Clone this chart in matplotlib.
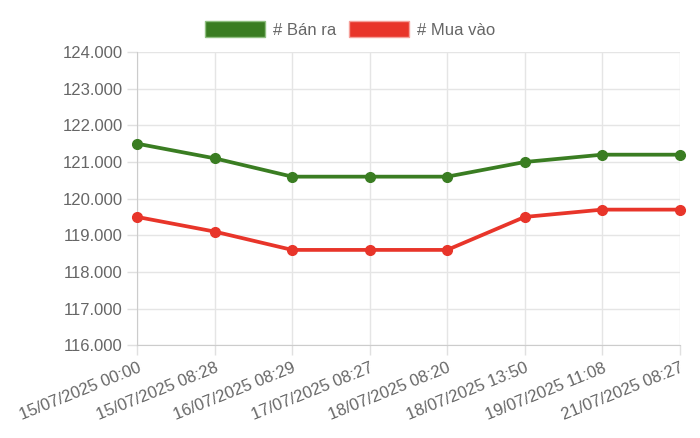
import matplotlib.pyplot as plt
from matplotlib.patches import Patch
from matplotlib.ticker import FuncFormatter

labels = ['15/07/2025 00:00', '15/07/2025 08:28', '16/07/2025 08:29', '17/07/2025 08:27',
          '18/07/2025 08:20', '18/07/2025 13:50', '19/07/2025 11:08', '21/07/2025 08:27']
ban_ra = [121500, 121100, 120600, 120600, 120600, 121000, 121200, 121200]
mua_vao = [119500, 119100, 118600, 118600, 118600, 119500, 119700, 119700]

GREEN = '#3a7d22'
RED = '#e8352a'

plt.rcParams['font.family'] = ['Liberation Sans', 'DejaVu Sans']


def main() -> None:
    fig = plt.figure(figsize=(7, 4.38), dpi=100)
    ax = fig.add_axes([0.196, 0.212, 0.775, 0.669])

    x = list(range(len(labels)))
    ax.plot(x, ban_ra, color=GREEN, lw=2.7, marker='o', ms=7, zorder=3, clip_on=False)
    ax.plot(x, mua_vao, color=RED, lw=2.7, marker='o', ms=7, zorder=3, clip_on=False)

    ax.set_xlim(0, len(labels) - 1)
    ax.set_ylim(116000, 124000)
    ax.set_yticks(range(116000, 124001, 1000))
    ax.yaxis.set_major_formatter(FuncFormatter(lambda v, p: f'{int(v):,}'.replace(',', '.')))
    ax.set_xticks(x)
    ax.set_xticklabels(labels, rotation=22, ha='right', rotation_mode='anchor')

    ax.grid(color='#e5e5e5', lw=1)
    ax.set_axisbelow(True)
    for side in ['top', 'right']:
        ax.spines[side].set_visible(False)
    ax.spines['left'].set_color('#cccccc')
    ax.spines['bottom'].set_color('#cccccc')
    ax.tick_params(colors='#e0e0e0', labelcolor='#666666', labelsize=12, length=7, width=1)
    ax.tick_params(axis='x', pad=4)

    handles = [Patch(facecolor=GREEN, edgecolor='#8fbf80', label='# Bán ra'),
               Patch(facecolor=RED, edgecolor='#f5a09a', label='# Mua vào')]
    fig.legend(handles=handles, loc='center', bbox_to_anchor=(0.5, 0.932), ncol=2, frameon=False,
               handlelength=3.6, handleheight=1.1, handletextpad=0.45, columnspacing=0.8,
               fontsize=12, labelcolor='#666666')

    fig.savefig('out.png', dpi=100)


if __name__ == '__main__':
    main()
